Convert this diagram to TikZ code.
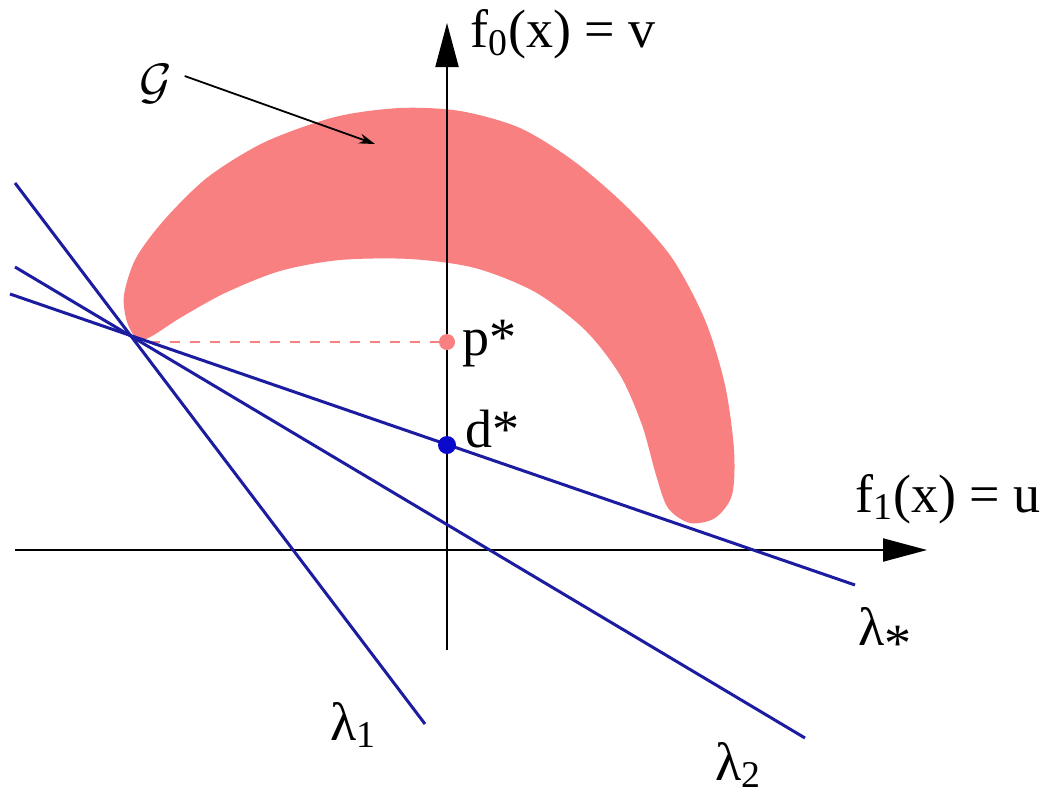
\documentclass[tikz,border=0pt]{standalone}
\usepackage{fontspec}
\setmainfont{Liberation Serif}
\usepackage{tikz}
\usetikzlibrary{arrows.meta}
\definecolor{gpink}{RGB}{248,128,128}
\definecolor{lnavy}{RGB}{28,28,160}
\definecolor{dblue}{RGB}{10,10,205}

\begin{document}
\begin{tikzpicture}[x=0.5pt, y=-0.5pt,
  every node/.style={font=\fontsize{27}{30}\selectfont, inner sep=0pt},
  axis/.style={line width=1pt, -{Triangle[length=22pt, width=11.5pt]}},
  dual/.style={lnavy, line width=1.5pt},
  lbl/.style={anchor=base west}]
\useasboundingbox (0,0) rectangle (1052,798);
% the set G
\fill[gpink] plot[smooth cycle, tension=0.5] coordinates {
  (138,340) (127,322) (124,295) (136,258) (165,219) (208,177) (265,142)
  (335,117) (400,108) (460,111) (520,128) (575,162) (628,208) (672,258)
  (705,320) (725,385) (734,450) (732,495) (715,518) (690,523) (668,508)
  (656,475) (642,425) (620,375) (585,330) (535,292) (475,268) (410,259)
  (340,260) (280,271) (225,293) (180,318) (152,336)};
% axes
\coordinate (uL) at (15,550);
\coordinate (uR) at (927,550);
\coordinate (vB) at (447,650);
\coordinate (vT) at (447,23);
\draw[axis] (uL) -- (uR);
\draw[axis] (vB) -- (vT);
\node[lbl] (ulab) at (855,512) {f\textsubscript{1}(x) = u};
\node[lbl] (vlab) at (470,47) {f\textsubscript{0}(x) = v};
% points
\coordinate (tip) at (150,342);
\node[circle, fill=gpink, minimum size=8pt] (pstar) at (447,342) {};
\draw[gpink, line width=1pt, dash pattern=on 5pt off 5pt] (tip) -- (pstar);
% lines
\coordinate (sA) at (10,294);
\coordinate (sB) at (855,585);
\coordinate (aA) at (15,183);
\coordinate (aB) at (425,724);
\coordinate (bA) at (15,267);
\coordinate (bB) at (805,738);
\draw[dual] (sA) -- (sB);
\draw[dual] (aA) -- (aB);
\draw[dual] (bA) -- (bB);
\node[circle, fill=dblue, minimum size=9pt] (dstar) at (447,445) {};
\node[lbl] (plab) at (462,355) {p*};
\node[lbl] (dlab) at (465,447) {d*};
\node[lbl] (slab) at (858,645) {λ\raisebox{-0.3em}{*}};
\node[lbl] (alab) at (330,740) {λ\textsubscript{1}};
\node[lbl] (blab) at (715,780) {λ\textsubscript{2}};
% label of G
\node (glab) at (156,84) {$\mathcal{G}$};
\coordinate (gto) at (375,144);
\draw[line width=0.9pt, -{Stealth[length=8pt, width=5pt]}] (glab.east) ++(12,-8) -- (gto);
\end{tikzpicture}
\end{document}
